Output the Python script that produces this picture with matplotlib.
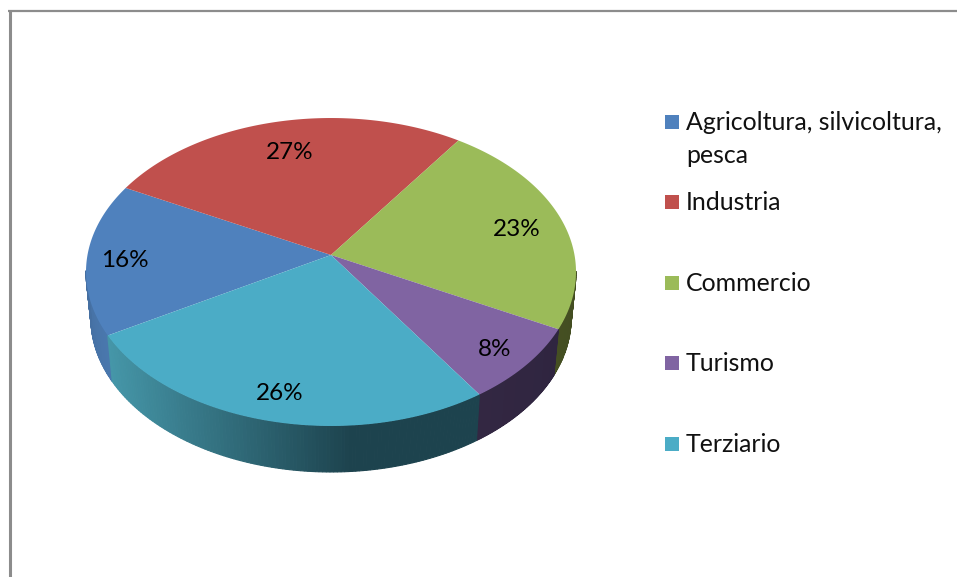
import numpy as np
import matplotlib
matplotlib.use("Agg")
import matplotlib.pyplot as plt
from matplotlib.colors import to_rgb
from matplotlib.patches import Rectangle

WIDTH, HEIGHT = 957, 577

categories = ["Agricoltura, silvicoltura,\npesca", "Industria", "Commercio", "Turismo", "Terziario"]
shares = [16, 27, 23, 8, 26]
colors = ["#4f81bd", "#c0504d", "#9bbb59", "#8064a2", "#4bacc6"]

# side wall shading, start -> end of each slice (going clockwise)
wall_from = ["#4a78ae", "#7a3230", "#3c4a1f", "#2f2540", "#1d434e"]
wall_to = ["#3d628f", "#7a3230", "#454f22", "#332742", "#4596a8"]
label_radius = [0.844, 0.77, 0.80, 0.847, 0.833]

plt.rcParams["font.family"] = ["Lato", "DejaVu Sans"]
FONT = 17.5

# perspective of the tilted disc, pixel units around the apex
CX, CY = 331, 255
K, A, B = 0.1104, 243.5, 152.1
START = 210
WALL_DX = 0.98
WALL_DY = 46


def project(x, y):
    w = 1 + K * y
    return CX + A * x / w, CY - B * y / w


def rim(theta):
    t = np.radians(theta)
    return project(np.cos(t), np.sin(t))


def rim_low(theta):
    x, y = rim(theta)
    return CX + (x - CX) * WALL_DX, y + WALL_DY


fig = plt.figure(figsize=(WIDTH / 100, HEIGHT / 100), dpi=100)
ax = fig.add_axes([0, 0, 1, 1])
ax.set_xlim(0, WIDTH)
ax.set_ylim(HEIGHT, 0)
ax.axis("off")

edges = START - np.cumsum([0] + shares) * 3.6

# side wall: thin strips along the lower part of the rim
for i in range(len(shares)):
    hi, lo = edges[i], edges[i + 1]
    angles = np.linspace(hi, lo, 120)
    c0, c1 = np.array(to_rgb(wall_from[i])), np.array(to_rgb(wall_to[i]))
    for a0, a1 in zip(angles[:-1], angles[1:]):
        mid = (a0 + a1) / 2
        if np.sin(np.radians(mid)) > -0.1:
            continue
        if i == 4:
            # teal wall is a gradient across x, flat dark on the right
            t = np.clip((350 - rim(mid)[0]) / (350 - 108), 0, 1)
        else:
            t = (hi - mid) / (hi - lo)
        col = c0 + (c1 - c0) * t
        xt, yt = rim(np.array([a0, a1]))
        xb, yb = rim_low(np.array([a1, a0]))
        ax.fill(np.r_[xt, xb], np.r_[yt, yb], color=col, lw=0.8, zorder=2)

# top of the pie
for i, col in enumerate(colors):
    x, y = rim(np.linspace(edges[i], edges[i + 1], 200))
    ax.fill(np.r_[CX, x], np.r_[CY, y], color=col, lw=0, zorder=3)

for i, value in enumerate(shares):
    mid = np.radians((edges[i] + edges[i + 1]) / 2)
    lx, ly = project(label_radius[i] * np.cos(mid), label_radius[i] * np.sin(mid))
    ax.text(lx, ly + 3, f"{value}%", fontsize=FONT, ha="center", va="center", color="black", zorder=4)

# frame
ax.plot([9.5, 9.5], [11, HEIGHT], color="#8c8c8c", lw=2.2, solid_capstyle="butt")
ax.plot([8, WIDTH], [11, 11], color="#8c8c8c", lw=1.6, solid_capstyle="butt")

# legend
for i, (name, col) in enumerate(zip(categories, colors)):
    y = 122 + 80.4 * i
    ax.add_patch(Rectangle((665, y - 7), 14, 14, facecolor=col, edgecolor="none"))
    ax.text(686, y - 11, name, fontsize=17.9, va="top", ha="left", color="#111111", linespacing=1.55)

fig.savefig("out.png", dpi=100)
